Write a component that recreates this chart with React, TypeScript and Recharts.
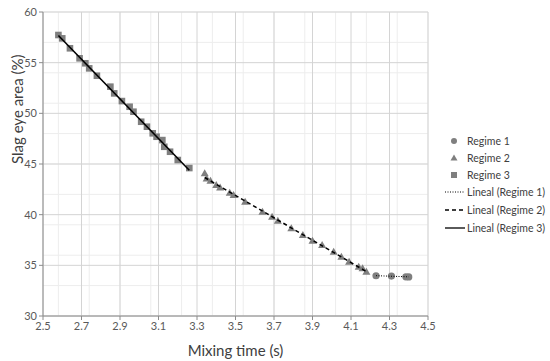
import { ScatterChart, Scatter, XAxis, YAxis, CartesianGrid } from "recharts";

const regime1X = [4.23, 4.31, 4.385, 4.4];
const regime1Y = [33.97, 33.94, 33.87, 33.86];

const regime2X = [3.34, 3.35, 3.37, 3.4, 3.42, 3.47, 3.49, 3.55, 3.64, 3.69, 3.72, 3.79, 3.85, 3.9, 3.95, 4.01, 4.05, 4.09, 4.14, 4.16, 4.18];
const regime2Y = [44.08, 43.58, 43.35, 42.92, 42.69, 42.16, 41.93, 41.27, 40.29, 39.79, 39.4, 38.65, 37.99, 37.43, 37.0, 36.34, 35.84, 35.35, 34.86, 34.7, 34.36];

const regime3X = [2.58, 2.6, 2.64, 2.69, 2.72, 2.74, 2.78, 2.85, 2.87, 2.91, 2.95, 2.97, 3.01, 3.04, 3.07, 3.09, 3.12, 3.13, 3.16, 3.2, 3.26];
const regime3Y = [57.73, 57.4, 56.42, 55.43, 54.94, 54.44, 53.71, 52.63, 51.97, 51.21, 50.65, 50.16, 49.17, 48.68, 48.03, 47.69, 47.36, 46.7, 46.21, 45.39, 44.6];

const xTicks = [2.5, 2.7, 2.9, 3.1, 3.3, 3.5, 3.7, 3.9, 4.1, 4.3, 4.5];
const yTicks = [30, 35, 40, 45, 50, 55, 60];
const xMinor = Array.from({ length: 51 }, (_, i) => 2.5 + i * 0.04);
const yMinor = Array.from({ length: 31 }, (_, i) => 30 + i);

const legendNames = ["Regime 1", "Regime 2", "Regime 3", "Lineal (Regime 1)", "Lineal (Regime 2)", "Lineal (Regime 3)"];

const MARK = "#7f7f7f";
const FONT = "Lato, 'Noto Sans', sans-serif";

function toPoints(xs: number[], ys: number[]) {
  return xs.map((x, i) => ({ x, y: ys[i] }));
}

// least squares fit, drawn from first to last x
function fit(xs: number[], ys: number[]) {
  const n = xs.length;
  const mx = xs.reduce((a, b) => a + b, 0) / n;
  const my = ys.reduce((a, b) => a + b, 0) / n;
  let num = 0;
  let den = 0;
  xs.forEach((x, i) => {
    num += (x - mx) * (ys[i] - my);
    den += (x - mx) * (x - mx);
  });
  const b = num / den;
  const a = my - b * mx;
  const x0 = Math.min(...xs);
  const x1 = Math.max(...xs);
  return [
    { x: x0, y: a + b * x0 },
    { x: x1, y: a + b * x1 },
  ];
}

const Circle = (p: any) => <circle cx={p.cx} cy={p.cy} r={3.6} fill={MARK} />;
const Triangle = (p: any) => (
  <path d={`M${p.cx},${p.cy - 4} L${p.cx + 4},${p.cy + 3} L${p.cx - 4},${p.cy + 3} Z`} fill={MARK} />
);
const Square = (p: any) => <rect x={p.cx - 3.3} y={p.cy - 3.3} width={6.6} height={6.6} fill={MARK} />;
const None = () => <g />;

function LegendBox() {
  const rows = [
    (y: number) => <circle cx={454} cy={y} r={3} fill={MARK} />,
    (y: number) => <path d={`M454,${y - 3.5} L457.5,${y + 2.5} L450.5,${y + 2.5} Z`} fill={MARK} />,
    (y: number) => <rect x={451} y={y - 3} width={6} height={6} fill={MARK} />,
    (y: number) => <line x1={445} x2={465} y1={y} y2={y} stroke="#000" strokeWidth={1} strokeDasharray="1 1.5" />,
    (y: number) => <line x1={445} x2={465} y1={y} y2={y} stroke="#000" strokeWidth={1.3} strokeDasharray="4 3" />,
    (y: number) => <line x1={445} x2={465} y1={y} y2={y} stroke="#000" strokeWidth={1.3} />,
  ];
  const ys = [141, 158, 175, 192, 210, 228];
  return (
    <svg width={550} height={361} style={{ position: "absolute", left: 0, top: 0, pointerEvents: "none" }}>
      {rows.map((r, i) => (
        <g key={i}>
          {r(ys[i])}
          <text x={467} y={ys[i] + 4} fontSize={10.5} fill="#404040" fontFamily={FONT}>
            {legendNames[i]}
          </text>
        </g>
      ))}
    </svg>
  );
}

export default function App() {
  return (
    <div style={{ position: "absolute", left: 0, top: 0, width: 550, height: 361, background: "#fff" }}>
      <ScatterChart width={550} height={361} margin={{ top: 12, right: 122, bottom: 0, left: 0 }}>
        <CartesianGrid stroke="#ededed" verticalValues={xMinor} horizontalValues={yMinor} />
        <CartesianGrid stroke="#d4d4d4" />
        <XAxis
          type="number"
          dataKey="x"
          domain={[2.5, 4.5]}
          ticks={xTicks}
          allowDataOverflow
          tickFormatter={(v: number) => v.toFixed(1)}
          stroke="#8c8c8c"
          tickSize={4}
          height={45}
          tick={{ fontSize: 11, fill: "#595959", fontFamily: FONT }}
          label={{ value: "Mixing time (s)", position: "insideBottom", offset: 5, fontSize: 15, fill: "#404040", fontFamily: FONT }}
        />
        <YAxis
          type="number"
          dataKey="y"
          domain={[30, 60]}
          ticks={yTicks}
          allowDataOverflow
          stroke="#8c8c8c"
          tickSize={4}
          width={43}
          tick={{ fontSize: 11, fill: "#595959", fontFamily: FONT }}
          label={{ value: "Slag eye area (%)", angle: -90, position: "insideLeft", offset: 18, fontSize: 15, fill: "#404040", fontFamily: FONT }}
        />
        <Scatter name="Regime 1" data={toPoints(regime1X, regime1Y)} shape={Circle} isAnimationActive={false} />
        <Scatter name="Regime 2" data={toPoints(regime2X, regime2Y)} shape={Triangle} isAnimationActive={false} />
        <Scatter name="Regime 3" data={toPoints(regime3X, regime3Y)} shape={Square} isAnimationActive={false} />
        <Scatter data={fit(regime1X, regime1Y)} line={{ stroke: "#000", strokeWidth: 1, strokeDasharray: "1 1.5" }} shape={None} isAnimationActive={false} legendType="none" />
        <Scatter data={fit(regime2X, regime2Y)} line={{ stroke: "#000", strokeWidth: 1.5, strokeDasharray: "4 3" }} shape={None} isAnimationActive={false} legendType="none" />
        <Scatter data={fit(regime3X, regime3Y)} line={{ stroke: "#000", strokeWidth: 1.6 }} shape={None} isAnimationActive={false} legendType="none" />
      </ScatterChart>
      <LegendBox />
    </div>
  );
}
